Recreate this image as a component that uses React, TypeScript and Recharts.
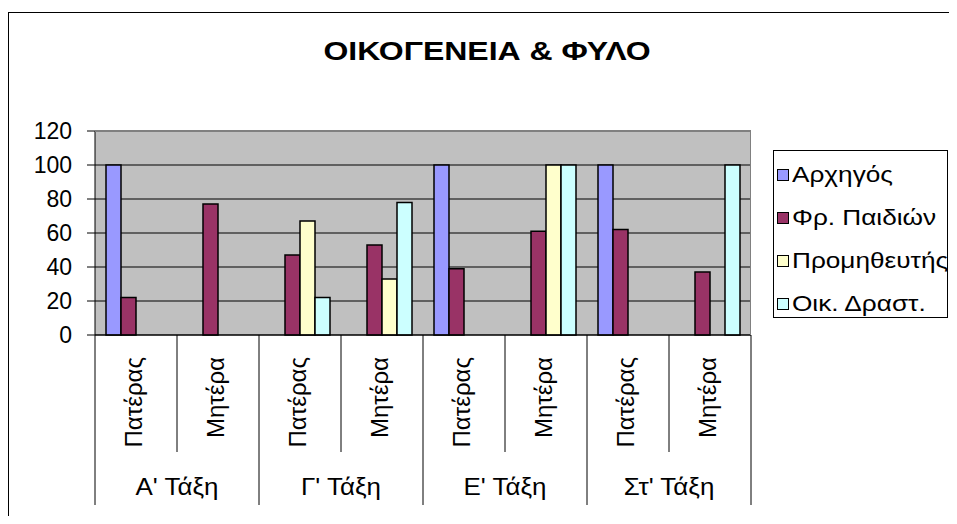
import React from "react";
import {
  BarChart,
  Bar,
  XAxis,
  YAxis,
  CartesianGrid,
  Legend,
} from "recharts";

// ── Data ──────────────────────────────────────────────────────────────────────
const subLabels = ["Πατέρας", "Μητέρα", "Πατέρας", "Μητέρα", "Πατέρας", "Μητέρα", "Πατέρας", "Μητέρα"];
const groupLabels = ["Α' Τάξη", "Γ' Τάξη", "Ε' Τάξη", "Στ' Τάξη"];
const yTicks = [0, 20, 40, 60, 80, 100, 120];

const leader = [100, 0, 0, 0, 100, 0, 100, 0];
const childFriend = [22, 77, 47, 53, 39, 61, 62, 37];
const provider = [0, 0, 67, 33, 0, 100, 0, 0];
const household = [0, 0, 22, 78, 0, 100, 0, 100];

const seriesNames = ["Αρχηγός", "Φρ. Παιδιών", "Προμηθευτής", "Οικ. Δραστ."];
const seriesKeys = ["leader", "childFriend", "provider", "household"];
const seriesColors = ["#9999FF", "#993366", "#FFFFCC", "#CCFFFF"];

const data = subLabels.map((s, i) => ({
  id: `c${i}`,
  sub: s,
  leader: leader[i],
  childFriend: childFriend[i],
  provider: provider[i],
  household: household[i],
}));

// ── Layout ────────────────────────────────────────────────────────────────────
const W = 941;
const H = 508;
const FONT = "'Liberation Sans', Arial, sans-serif";
const M = { top: 123, right: 198, bottom: 11, left: 27 };
const Y_AXIS_W = 60;
const X_AXIS_H = 170;
const PLOT_LEFT = M.left + Y_AXIS_W;
const PLOT_W = W - M.right - PLOT_LEFT;
const PLOT_BOTTOM = H - M.bottom - X_AXIS_H;
const BAND = PLOT_W / subLabels.length;
const LEGEND_LEFT = 765;
const LEGEND_W = 175;
const LEGEND_H = 168;

// two-level category axis: rotated sub labels + group labels with separators
function XTick(props: any) {
  const { x, payload } = props;
  const i: number = props.index ?? payload?.index ?? 0;
  const y0 = PLOT_BOTTOM;
  const right = x + BAND / 2;
  const left = x - BAND / 2;
  const odd = i % 2 === 1;
  return (
    <g>
      {i === 0 && (
        <line x1={left} x2={left} y1={y0} y2={y0 + 170} stroke="#000" strokeWidth={1} />
      )}
      <line
        x1={right}
        x2={right}
        y1={y0}
        y2={y0 + (odd ? 170 : 117)}
        stroke="#000"
        strokeWidth={1}
      />
      <text
        transform={`translate(${x - 3},${y0 + 22}) rotate(-90)`}
        textAnchor="end"
        dominantBaseline="central"
        fontSize={24}
        fontFamily={FONT}
        fill="#000"
      >
        {subLabels[i]}
      </text>
      {odd && (
        <text
          transform={`translate(${left},${y0 + 151}) scale(1.08,1)`}
          textAnchor="middle"
          dominantBaseline="central"
          fontSize={24}
          fontFamily={FONT}
          fill="#000"
        >
          {groupLabels[(i - 1) / 2]}
        </text>
      )}
    </g>
  );
}

function LegendBox() {
  return (
    <div
      style={{
        width: LEGEND_W,
        height: LEGEND_H,
        border: "1px solid #000",
        background: "#fff",
        boxSizing: "border-box",
        paddingTop: 2,
        overflow: "hidden",
        fontFamily: FONT,
      }}
    >
      {seriesNames.map((name, i) => (
        <div
          key={name}
          style={{ height: 43, display: "flex", alignItems: "center", whiteSpace: "nowrap" }}
        >
          <span
            style={{
              display: "inline-block",
              flex: "none",
              width: 10,
              height: 10,
              marginLeft: 3,
              marginRight: 3,
              border: "1px solid #000",
              background: seriesColors[i],
            }}
          />
          <span
            style={{
              display: "inline-block",
              fontSize: 22,
              lineHeight: "26px",
              color: "#000",
              transform: "scaleX(1.19)",
              transformOrigin: "left center",
            }}
          >
            {name}
          </span>
        </div>
      ))}
    </div>
  );
}

export default function App() {
  return (
    <div style={{ position: "relative", width: W, height: H, overflow: "hidden", fontFamily: FONT }}>
      {/* outer chart frame */}
      <div
        style={{
          position: "absolute",
          left: 0,
          top: 4,
          width: 2000,
          height: 2000,
          borderLeft: "1px solid #000",
          borderTop: "1px solid #000",
        }}
      />
      <div
        style={{
          position: "absolute",
          left: 179.5,
          width: 600,
          top: 30,
          lineHeight: "26px",
          textAlign: "center",
          fontSize: 26,
          fontWeight: "bold",
          color: "#000",
        }}
      >
        <span style={{ display: "inline-block", transform: "scaleX(1.23)" }}>
          ΟΙΚΟΓΕΝΕΙΑ &amp; ΦΥΛΟ
        </span>
      </div>
      <BarChart
        width={W}
        height={H}
        data={data}
        margin={M}
        barGap={0}
        barSize={15}
        style={{ position: "absolute", left: 0, top: 0 }}
      >
        <CartesianGrid fill="#C0C0C0" stroke="#000" vertical={false} />
        <XAxis
          dataKey="id"
          interval={0}
          height={X_AXIS_H}
          tickLine={false}
          axisLine={{ stroke: "#000" }}
          tick={<XTick />}
        />
        <YAxis
          width={Y_AXIS_W}
          domain={[0, 120]}
          ticks={yTicks}
          interval={0}
          tickSize={8}
          tickMargin={15}
          axisLine={{ stroke: "#000" }}
          tickLine={{ stroke: "#000" }}
          tick={{ fontSize: 23, fill: "#000", fontFamily: FONT }}
        />
        <Legend
          layout="vertical"
          align="center"
          verticalAlign="middle"
          content={() => <LegendBox />}
          wrapperStyle={{
            position: "absolute",
            left: LEGEND_LEFT,
            top: 142,
            width: LEGEND_W,
            height: LEGEND_H,
          }}
        />
        {seriesKeys.map((k, i) => (
          <Bar
            key={k}
            dataKey={k}
            name={seriesNames[i]}
            fill={seriesColors[i]}
            stroke="#000"
            strokeWidth={1.5}
            isAnimationActive={false}
          />
        ))}
      </BarChart>
      {/* plot-area border (top & right) */}
      <div
        style={{
          position: "absolute",
          left: PLOT_LEFT,
          top: M.top,
          width: PLOT_W,
          height: PLOT_BOTTOM - M.top,
          borderTop: "1px solid #808080",
          borderRight: "1px solid #808080",
          boxSizing: "border-box",
          pointerEvents: "none",
        }}
      />
    </div>
  );
}
